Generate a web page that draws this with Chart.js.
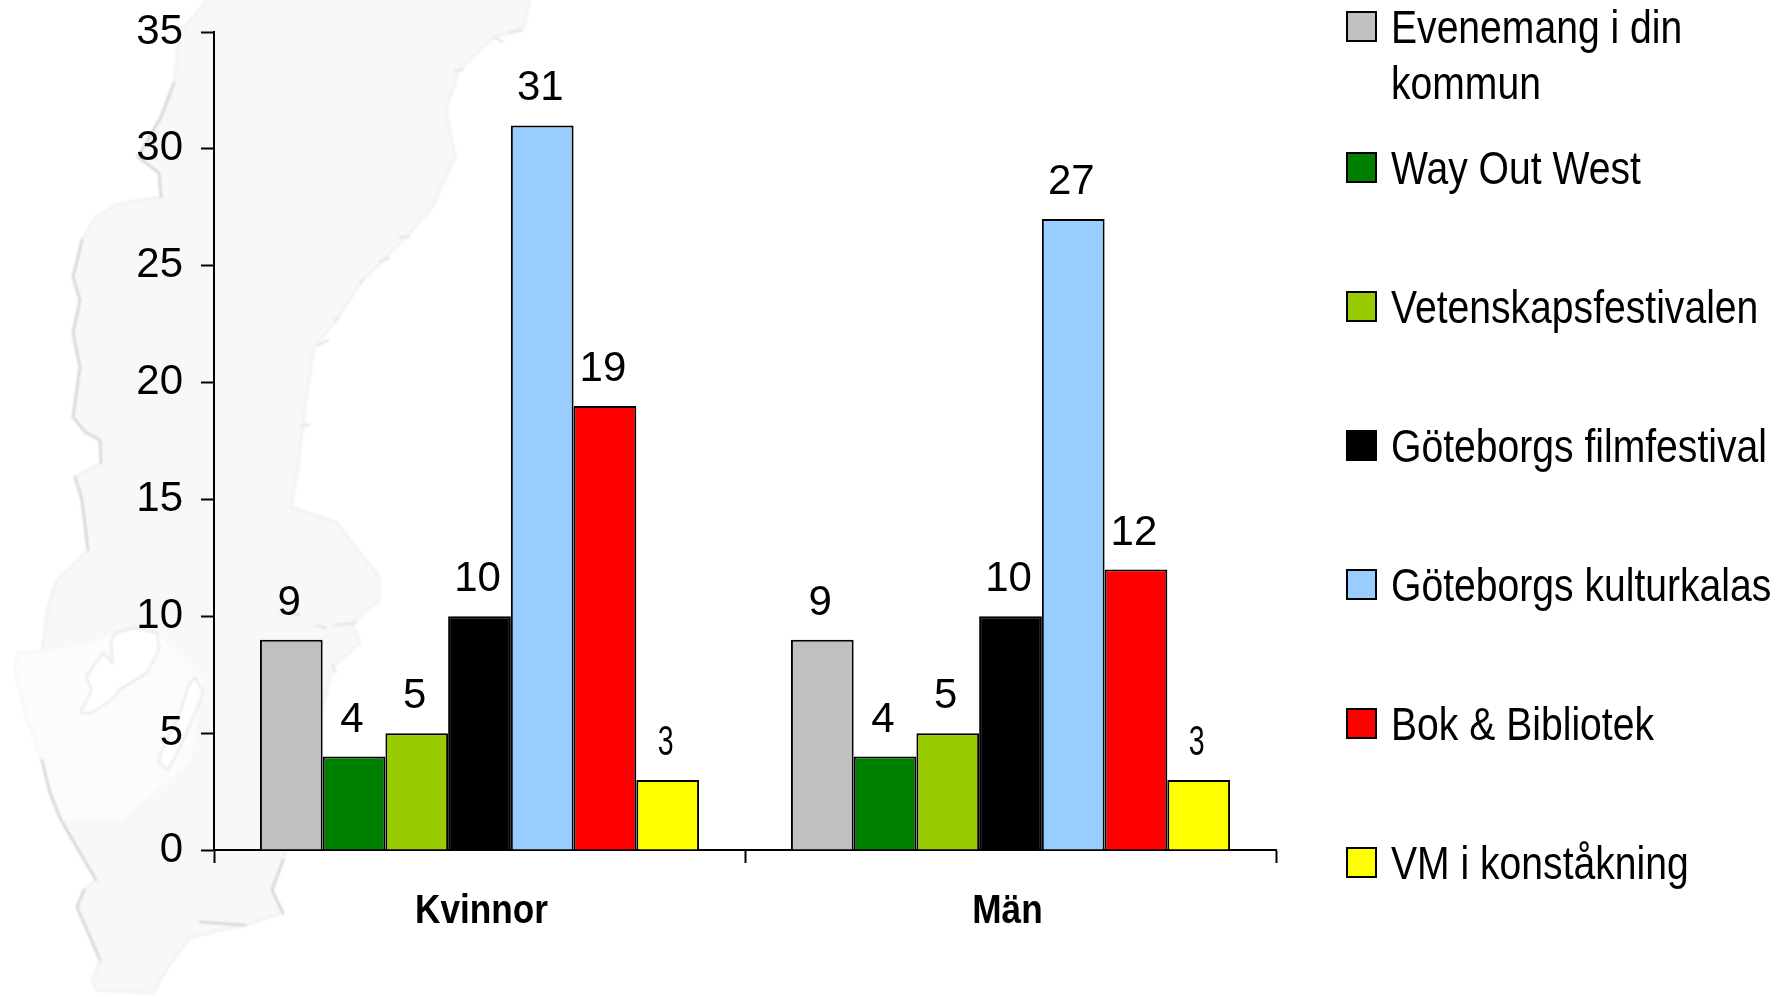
<!DOCTYPE html>
<html>
<head>
<meta charset="utf-8">
<title>Evenemang</title>
<script src="https://cdn.jsdelivr.net/npm/chart.js@4"></script>
<style>
    html, body { margin: 0; padding: 0; background: #fff; overflow: hidden; }
    #wrap { position: relative; width: 1782px; height: 997px; }
    #map, #chart { position: absolute; left: 0; top: 0; }
    #map { filter: blur(1.2px); }
    #legend { position: absolute; left: 1346px; top: 0; font-family: "Liberation Sans", Arial, sans-serif; color: #000; }
    .item { position: absolute; left: 0; white-space: nowrap; }
    .swatch { position: absolute; left: 0; top: -15px; width: 27px; height: 27px; border: 2px solid #000; }
    .text { position: absolute; left: 45px; top: -27px; font-size: 46px; line-height: 56px; transform: scaleX(0.85); transform-origin: left top; }
</style>
</head>
<body>
<div id="wrap">
    <!-- pale map of Sweden behind the chart -->
    <svg id="map" width="1782" height="997">
        <path fill="#faf7fb" stroke="#f3f2f3" stroke-width="3" stroke-linejoin="round" d="M207,0 L180,33 L174,83 L161,117 L138,157 L159,173 L161,197 L135,201 L115,205 L95,218 L82,240 L73,277 L80,300 L73,333 L80,367 L73,417 L85,432 L100,440 L101,463 L75,477 L82,500 L88,550 L57,580 L48,607 L42,652 L19,653 L15,670 L27,717 L42,760 L50,793 L61,820 L96,880 L84,890 L77,907 L100,960 L92,980 L96,990 L153,993 L168,967 L191,937 L245,925 L283,913 L272,890 L283,860 L333,667 L360,643 L352,623 L379,600 L379,577 L337,523 L291,507 L298,467 L306,400 L314,347 L337,320 L360,283 L383,260 L406,237 L432,207 L455,157 L446,110 L459,70 L494,37 L524,27 L530,0 Z"/>
        <path fill="#fdfcfd" d="M15,670 L19,653 L42,652 L86,645 L115,633 L157,633 L203,680 L190,760 L153,793 L122,820 L61,820 L42,760 L27,717 Z"/>
        <path fill="#fff" stroke="#e4e2e4" stroke-width="1.5" stroke-linejoin="round" d="M115,633 L134,628 L157,633 L159,650 L147,673 L119,690 L115,697 L92,713 L80,713 L92,690 L86,677 L103,653 L113,663 L111,643 Z"/>
        <path fill="#fff" stroke="#e4e2e4" stroke-width="1.5" stroke-linejoin="round" d="M195,677 L203,693 L195,713 L180,747 L168,770 L159,763 L161,753 L180,713 L188,687 Z"/>
        <g fill="none" stroke="#cfcdcf" stroke-width="2" stroke-linecap="round">
            <path d="M174,83 L161,117 L138,157 L159,173 L161,197"/>
            <path d="M82,240 L73,277 L80,300 L73,333 L80,367 L73,417 L85,432 L100,440 L101,463"/>
            <path d="M75,477 L82,500 L88,550"/>
            <path d="M42,760 L50,793 L61,820 L96,880"/>
            <path d="M84,890 L77,907 L100,960"/>
            <path d="M283,860 L272,890 L283,913"/>
            <path d="M200,922 L245,925"/>
        </g>
        <g fill="none" stroke="#e2e0e2" stroke-width="2" stroke-linecap="round">
            <path d="M280,610 L300,615 M315,625 L325,628 M335,625 L356,623 M332,665 L336,672"/>
            <path d="M494,37 L503,42 M510,33 L522,30 M455,71 L463,70 M400,237 L409,237 M380,262 L389,258 M360,283 L363,280 M335,320 L338,318 M318,345 L328,340 M302,425 L309,425"/>
        </g>
    </svg>
    <canvas id="chart" width="1782" height="997"></canvas>
    <div id="legend"></div>
</div>
<script>
// Chart data
const categories = ['Kvinnor', 'Män'];
const seriesNames = ['Evenemang i din\nkommun', 'Way Out West', 'Vetenskapsfestivalen', 'Göteborgs filmfestival', 'Göteborgs kulturkalas', 'Bok & Bibliotek', 'VM i konståkning'];
const seriesColors = ['#c0c0c0', '#008000', '#99cc00', '#000000', '#99ccff', '#ff0000', '#ffff00'];
const evenemang = [9, 9];
const wayOutWest = [4, 4];
const vetenskap = [5, 5];
const filmfestival = [10, 10];
const kulturkalas = [31, 27];
const bokBibliotek = [19, 12];
const vmKonstakning = [3, 3];
const allValues = [evenemang, wayOutWest, vetenskap, filmfestival, kulturkalas, bokBibliotek, vmKonstakning];

const FONT = '"Liberation Sans", Arial, sans-serif';

// Draws the value above each bar and the squeezed category names under the axis
const labelPlugin = {
    id: 'labelPlugin',
    afterDatasetsDraw(chart) {
        const ctx = chart.ctx;
        ctx.save();
        ctx.fillStyle = '#000';
        ctx.textAlign = 'center';
        ctx.textBaseline = 'alphabetic';
        chart.data.datasets.forEach((dataset, i) => {
            chart.getDatasetMeta(i).data.forEach((bar, j) => {
                const narrow = i === 6; // the last series has thin labels in the original
                ctx.save();
                ctx.translate(bar.x - 2, bar.y - 25);
                ctx.scale(narrow ? 0.68 : 1, 1);
                ctx.font = '42px ' + FONT;
                ctx.fillText(dataset.data[j], 0, 0);
                ctx.restore();
            });
        });
        const xScale = chart.scales.x;
        const nudge = [2, -3]; // names sit a little off the tick centre
        categories.forEach((name, j) => {
            ctx.save();
            ctx.translate(xScale.getPixelForTick(j) + nudge[j], 923);
            ctx.scale(0.88, 1);
            ctx.font = 'bold 40px ' + FONT;
            ctx.fillText(name, 0, 0);
            ctx.restore();
        });
        ctx.restore();
    }
};

new Chart(document.getElementById('chart'), {
    type: 'bar',
    data: {
        labels: categories,
        datasets: allValues.map((values, i) => ({
            label: seriesNames[i],
            data: values,
            backgroundColor: seriesColors[i],
            borderColor: '#000',
            borderWidth: 2,
            barPercentage: 1,
            categoryPercentage: 0.827
        }))
    },
    options: {
        responsive: false,
        animation: false,
        layout: { padding: { top: 32, right: 506, bottom: 147, left: 0 } },
        plugins: { legend: { display: false }, tooltip: { enabled: false } },
        scales: {
            x: {
                afterFit: scale => { scale.height = 0; },
                border: { color: '#000', width: 2 },
                grid: { drawOnChartArea: false, drawTicks: true, tickLength: 13, tickColor: '#000', tickWidth: 2 },
                ticks: { display: false }
            },
            y: {
                min: 0,
                max: 35,
                afterFit: scale => {
                    scale.width = 214;
                    // no extra room for half a tick label above and below the axis
                    scale.paddingTop = 0;
                    scale.paddingBottom = 0;
                },
                border: { color: '#000', width: 2 },
                grid: { drawOnChartArea: false, drawTicks: true, tickLength: 13, tickColor: '#000', tickWidth: 2 },
                ticks: { stepSize: 5, color: '#000', padding: 18, font: { family: FONT, size: 42 } }
            }
        }
    },
    plugins: [labelPlugin]
});

// Legend on the right
const legend = document.getElementById('legend');
seriesNames.forEach((name, i) => {
    const item = document.createElement('div');
    item.className = 'item';
    item.style.top = (i === 0 ? 26 : 167 + 139 * (i - 1)) + 'px';
    const swatch = document.createElement('div');
    swatch.className = 'swatch';
    swatch.style.background = seriesColors[i];
    const text = document.createElement('div');
    text.className = 'text';
    text.innerText = name;
    item.appendChild(swatch);
    item.appendChild(text);
    legend.appendChild(item);
});
</script>
</body>
</html>
